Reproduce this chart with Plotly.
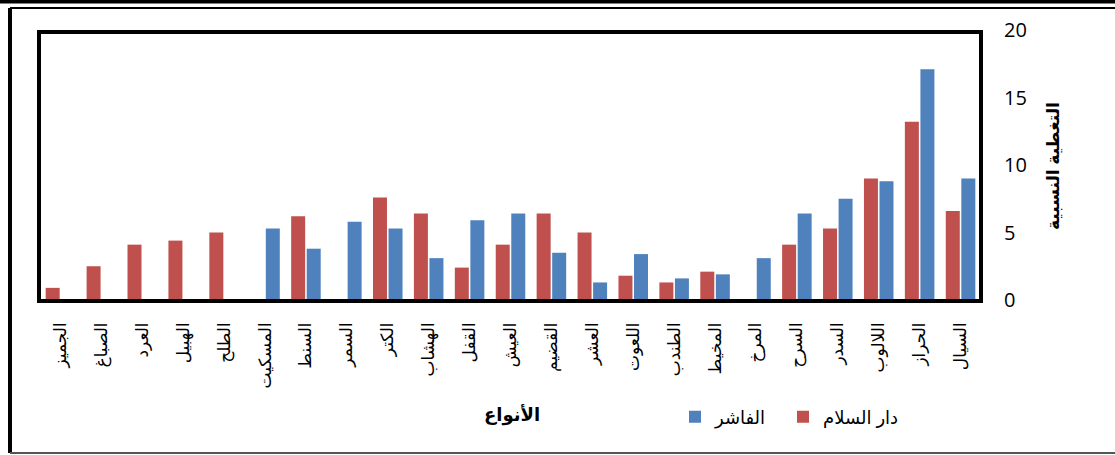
import plotly.graph_objects as go

categories = ["الجميز", "الصباغ", "العرد", "الهبيل", "الطلح", "المسكيت", "السنط", "السمر",
              "الكتر", "الهشاب", "القفل", "العيش", "القضيم", "العشر", "اللعوت", "الطندب",
              "المخيط", "المرخ", "السرح", "السدر", "اللالوب", "الحراز", "السيال"]
dar_salam = [0.9, 2.5, 4.1, 4.4, 5.0, 0, 6.2, 0, 7.6, 6.4, 2.4, 4.1, 6.4, 5.0, 1.8, 1.3,
             2.1, 0, 4.1, 5.3, 9.0, 13.2, 6.6]
fasher = [0, 0, 0, 0, 0, 5.3, 3.8, 5.8, 5.3, 3.1, 5.9, 6.4, 3.5, 1.3, 3.4, 1.6,
          1.9, 3.1, 6.4, 7.5, 8.8, 17.1, 9.0]
y_ticks = [0, 5, 10, 15, 20]

W, H = 1115, 455
L, R, T, B = 40, 1115 - 981, 30, 455 - 300

def px(x):
    return (x - L) / (W - L - R)

def py(y):
    return (H - B - y) / (H - T - B)

fig = go.Figure()
fig.add_trace(go.Bar(x=categories, y=dar_salam, name="دار السلام", legend="legend2",
                     marker=dict(color="#C0504D", line=dict(width=0))))
fig.add_trace(go.Bar(x=categories, y=fasher, name="الفاشر", legend="legend",
                     marker=dict(color="#4F81BD", line=dict(width=0))))

font_ar = "Arial, DejaVu Sans, sans-serif"
legend_font = dict(family=font_ar, size=18, color="black")

fig.update_layout(
    width=W, height=H,
    margin=dict(l=L, r=R, t=T, b=B, pad=0, autoexpand=False),
    paper_bgcolor="white", plot_bgcolor="white",
    barmode="group", bargap=0.24, bargroupgap=0.1,
    showlegend=True,
    legend=dict(orientation="h", x=px(675), y=py(417), xanchor="left", yanchor="middle",
                font=legend_font, bgcolor="rgba(0,0,0,0)"),
    legend2=dict(orientation="h", x=px(783), y=py(417), xanchor="left", yanchor="middle",
                 font=legend_font, bgcolor="rgba(0,0,0,0)"),
    xaxis=dict(type="category", tickangle=-90, showgrid=False, showline=False,
               ticks="", tickfont=dict(family=font_ar, size=17, color="black"),
               ticklabelstandoff=18, automargin=False),
    yaxis=dict(side="right", range=[0, 20], tickvals=y_ticks, showgrid=False,
               showline=False, zeroline=False, ticks="",
               tickfont=dict(family="Open Sans, Liberation Sans, sans-serif", size=20, color="black"),
               ticklabelstandoff=22, automargin=False),
)

fig.add_annotation(text="<b>التغطية النسبية</b>", xref="paper", yref="paper",
                   x=px(1053), y=py(166), textangle=-90, showarrow=False,
                   xanchor="center", yanchor="middle",
                   font=dict(family=font_ar, size=17, color="black"))
fig.add_annotation(text="<b>الأنواع</b>", xref="paper", yref="paper",
                   x=px(512), y=py(415), showarrow=False,
                   xanchor="center", yanchor="middle",
                   font=dict(family=font_ar, size=18, color="black"))

# plot border
fig.add_shape(type="rect", xref="paper", yref="paper",
              x0=px(39), x1=px(981), y0=py(301), y1=py(32),
              line=dict(color="black", width=4))
# outer frame
fig.add_shape(type="line", xref="paper", yref="paper",
              x0=px(-5), x1=px(1125), y0=py(1.5), y1=py(1.5),
              line=dict(color="black", width=4))
fig.add_shape(type="line", xref="paper", yref="paper",
              x0=px(10), x1=px(1125), y0=py(8), y1=py(8),
              line=dict(color="black", width=2))
fig.add_shape(type="line", xref="paper", yref="paper",
              x0=px(10), x1=px(10), y0=py(8), y1=py(453),
              line=dict(color="black", width=4))
fig.add_shape(type="line", xref="paper", yref="paper",
              x0=px(10), x1=px(1125), y0=py(453), y1=py(453),
              line=dict(color="#555555", width=2))

fig.write_html("out.html", config={"displayModeBar": False},
               post_script="document.body.style.margin='0';document.body.style.overflow='hidden';")
